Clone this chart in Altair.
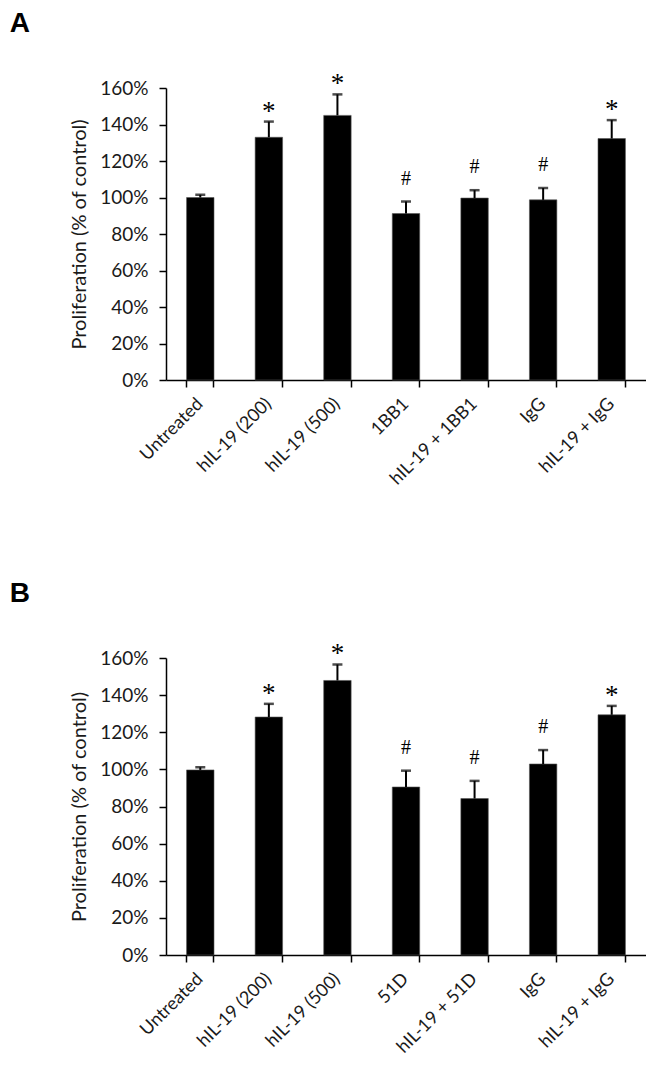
import altair as alt
import pandas as pd

categories_a = ["Untreated", "hIL-19 (200)", "hIL-19 (500)", "1BB1", "hIL-19 + 1BB1", "IgG", "hIL-19 + IgG"]
values_a = [100, 133, 145, 91.2, 99.7, 98.7, 132.3]
errors_a = [1.5, 8.6, 11.5, 6.6, 4.3, 6.5, 10.1]
marks_a = ["", "*", "*", "#", "#", "#", "*"]

categories_b = ["Untreated", "hIL-19 (200)", "hIL-19 (500)", "51D", "hIL-19 + 51D", "IgG", "hIL-19 + IgG"]
values_b = [99.7, 128.2, 147.9, 90.5, 84.3, 102.9, 129.4]
errors_b = [1.4, 7.1, 8.6, 8.8, 9.5, 7.5, 4.8]
marks_b = ["", "*", "*", "#", "#", "#", "*"]

y_ticks = [0, 20, 40, 60, 80, 100, 120, 140, 160]

FONT = "Lato"


def panel(letter, cats, vals, errs, marks, height):
    df = pd.DataFrame({"cat": cats, "val": vals, "err": errs, "mark": marks})
    df["top"] = df["val"] + df["err"]
    base = alt.Chart(df)
    xenc = alt.X(
        "cat:N",
        sort=cats,
        scale=alt.Scale(paddingInner=0.6, paddingOuter=0.3),
        axis=alt.Axis(
            title=None,
            labelAngle=-45,
            labelAlign="right",
            labelBaseline="middle",
            labelPadding=14,
            labelFontSize=18,
            labelFont=FONT,
            labelColor="#1a1a1a",
            bandPosition=1,
            tickExtra=True,
            tickSize=7,
            tickWidth=1.5,
            tickColor="black",
            domainColor="black",
            domainWidth=1.5,
        ),
    )
    yaxis = alt.Axis(
        values=y_ticks,
        labelExpr="datum.value + '%'",
        title="Proliferation (% of control)",
        titleFont=FONT,
        titleFontSize=20,
        titleFontWeight="normal",
        titleColor="#1a1a1a",
        titlePadding=10,
        labelFont=FONT,
        labelFontSize=19,
        labelColor="#1a1a1a",
        labelPadding=11,
        tickSize=7,
        tickWidth=1.5,
        tickColor="black",
        domainColor="black",
        domainWidth=1.5,
        grid=False,
    )
    yscale = alt.Scale(domain=[0, 160], nice=False)
    bars = base.mark_bar(color="black", stroke="#555555", strokeWidth=0.6).encode(
        x=xenc, y=alt.Y("val:Q", scale=yscale, axis=yaxis)
    )
    rules = base.mark_rule(color="black", strokeWidth=2).encode(
        x=xenc, y=alt.Y("val:Q", scale=yscale, axis=yaxis), y2="top:Q"
    )
    caps = base.mark_tick(color="black", thickness=2.5, size=10).encode(
        x=xenc, y=alt.Y("top:Q", scale=yscale, axis=yaxis)
    )
    stars = base.transform_filter(alt.datum.mark == "*").mark_text(
        font="Liberation Serif", fontSize=27, baseline="alphabetic", dy=-2, color="black"
    ).encode(x=xenc, y=alt.Y("top:Q", scale=yscale, axis=yaxis), text="mark:N")
    hashes = base.transform_filter(alt.datum.mark == "#").mark_text(
        font="Liberation Serif", fontSize=20, baseline="alphabetic", dy=-17, color="black"
    ).encode(x=xenc, y=alt.Y("top:Q", scale=yscale, axis=yaxis), text="mark:N")
    return alt.layer(bars, rules, caps, stars, hashes).properties(
        width=480,
        height=height,
        title=alt.TitleParams(
            letter,
            anchor="start",
            frame="bounds",
            dx=-60,
            fontSize=28,
            font="Liberation Sans",
            fontWeight="bold",
            offset=32,
            color="black",
        ),
    )


pa = panel("A", categories_a, values_a, errors_a, marks_a, 292)
pb = panel("B", categories_b, values_b, errors_b, marks_b, 297)

chart = (
    alt.vconcat(pa, pb, spacing=91)
    .properties(padding={"left": 1, "top": 2, "right": 0, "bottom": 0}, background="white")
    .configure_view(stroke=None)
)

chart.save("out.html", embed_options={"renderer": "svg", "actions": False})
